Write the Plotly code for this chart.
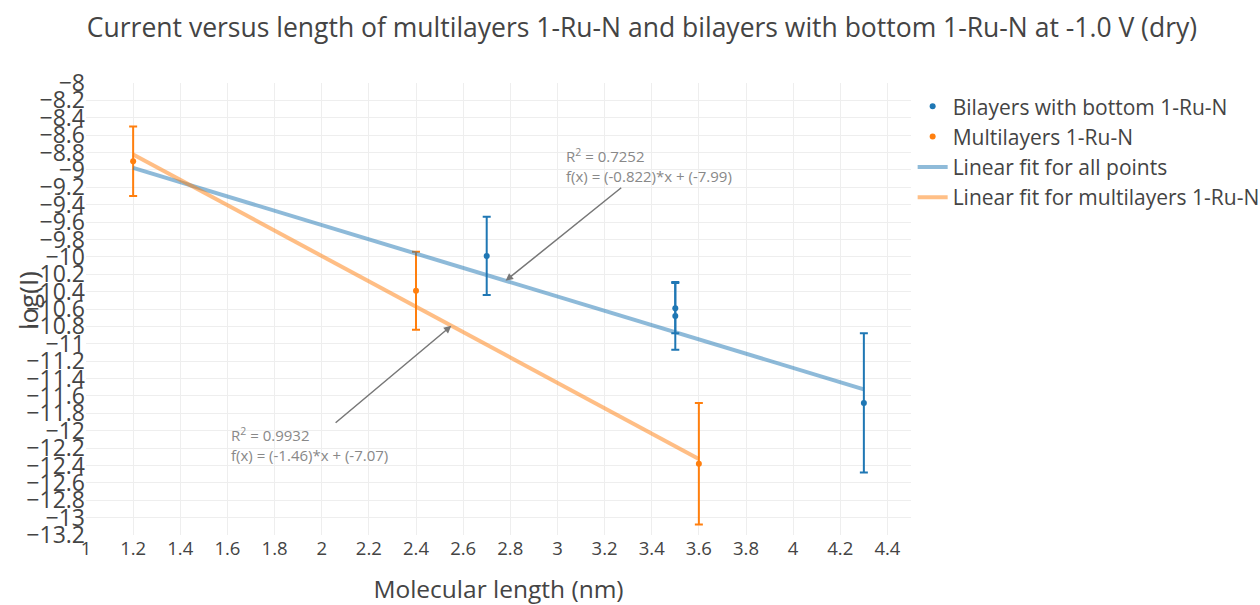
import plotly.graph_objects as go

# Measured log(I) values at -1.0 V (dry)
bilayer_x = [2.7, 3.5, 3.5, 4.3]
bilayer_y = [-9.99, -10.59, -10.68, -11.68]
bilayer_err = [0.45, 0.29, 0.39, 0.80]

multi_x = [1.2, 2.4, 3.6]
multi_y = [-8.90, -10.39, -12.38]
multi_err = [0.40, 0.45, 0.70]

# Linear fit parameters (slope, intercept, R^2)
fit_all = {"slope": -0.822, "intercept": -7.99, "r2": 0.7252, "x": [1.2, 4.3]}
fit_multi = {"slope": -1.46, "intercept": -7.07, "r2": 0.9932, "x": [1.2, 3.6]}

blue = "#1f77b4"
orange = "#ff7f0e"


def line_of(fit):
    return [fit["slope"] * x + fit["intercept"] for x in fit["x"]]


fig = go.Figure()
fig.add_trace(go.Scatter(
    x=bilayer_x, y=bilayer_y, mode="markers", name="Bilayers with bottom 1-Ru-N",
    marker=dict(color=blue, size=6),
    error_y=dict(type="data", array=bilayer_err, visible=True, color=blue,
                 thickness=2, width=4),
))
fig.add_trace(go.Scatter(
    x=multi_x, y=multi_y, mode="markers", name="Multilayers 1-Ru-N",
    marker=dict(color=orange, size=6),
    error_y=dict(type="data", array=multi_err, visible=True, color=orange,
                 thickness=2, width=4),
))
fig.add_trace(go.Scatter(
    x=fit_all["x"], y=line_of(fit_all), mode="lines", name="Linear fit for all points",
    line=dict(color=blue, width=4), opacity=0.5,
))
fig.add_trace(go.Scatter(
    x=fit_multi["x"], y=line_of(fit_multi), mode="lines",
    name="Linear fit for multilayers 1-Ru-N",
    line=dict(color=orange, width=4), opacity=0.5,
))


def fit_label(fit):
    return "R<sup>2</sup> = %s<br>f(x) = (%s)*x + (%s)" % (fit["r2"], fit["slope"], fit["intercept"])


ann_font = dict(family="Open Sans", size=15, color="#888")
fig.add_annotation(
    x=2.78, y=fit_all["slope"] * 2.78 + fit_all["intercept"],
    text=fit_label(fit_all), align="left", font=ann_font,
    showarrow=True, arrowhead=2, arrowsize=1, arrowwidth=1.5, arrowcolor="#777",
    ax=143, ay=-115,
)
fig.add_annotation(
    x=2.55, y=fit_multi["slope"] * 2.55 + fit_multi["intercept"],
    text=fit_label(fit_multi), align="left", font=ann_font,
    showarrow=True, arrowhead=2, arrowsize=1, arrowwidth=1.5, arrowcolor="#777",
    ax=-142, ay=119,
)

# y-axis title, set close to the tick labels
fig.add_annotation(
    text="log(I)", textangle=-90, xref="paper", yref="paper",
    x=-0.07, y=0.518, xanchor="center", yanchor="middle", showarrow=False,
    font=dict(family="Open Sans", size=26, color="#444"),
)

fig.update_layout(
    width=1260, height=605,
    template="none",
    paper_bgcolor="white", plot_bgcolor="white",
    font=dict(family="Open Sans", color="#444"),
    title=dict(
        text="Current versus length of multilayers 1-Ru-N and bilayers with bottom 1-Ru-N at -1.0 V (dry)",
        x=0.5095, xanchor="center", y=0.955, yanchor="middle", font=dict(size=26.5),
    ),
    margin=dict(l=86, r=349, t=83, b=70, autoexpand=False),
    showlegend=True,
    legend=dict(x=1.002, y=0.993, font=dict(size=21), tracegroupgap=0),
    xaxis=dict(
        title=dict(text="Molecular length (nm)", font=dict(size=24.5)),
        range=[1, 4.5], dtick=0.2, tick0=1, showgrid=True, gridcolor="#eee",
        zeroline=False, showline=False, ticks="", tickfont=dict(size=18.5),
    ),
    yaxis=dict(
        range=[-13.2, -8], dtick=0.2, tick0=-8, showgrid=True, gridcolor="#eee",
        zeroline=False, showline=False, ticks="", tickfont=dict(size=23),
    ),
)

fig.write_html("out.html")
